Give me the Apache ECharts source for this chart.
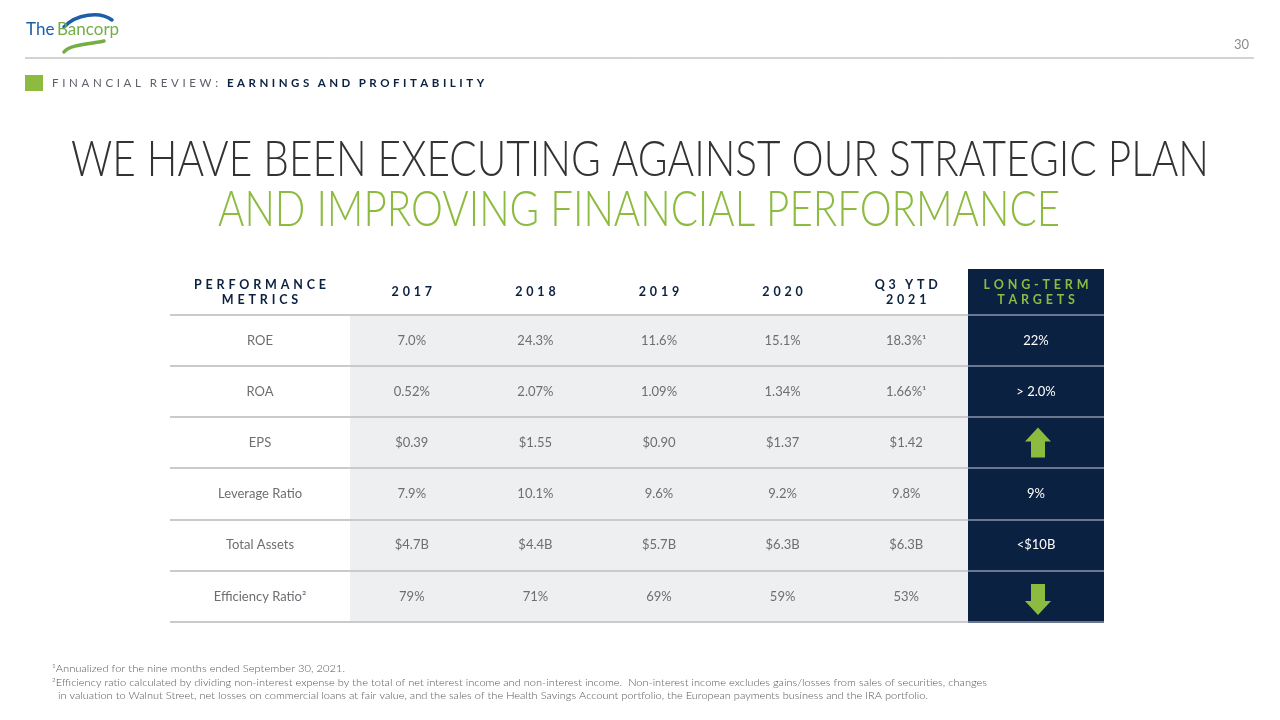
<!DOCTYPE html>
<html>
<head>
<meta charset="utf-8">
<title>Earnings and Profitability</title>
<script src="https://cdn.jsdelivr.net/npm/echarts@6.0.0/dist/echarts.min.js"></script>
<style>html,body{margin:0;padding:0;background:#fff;}</style>
</head>
<body>
<div id="main" style="width:1280px;height:720px;"></div>
<script>
// table content
var metrics = ['ROE', 'ROA', 'EPS', 'Leverage Ratio', 'Total Assets', 'Efficiency Ratio²'];
var periods = ['2017', '2018', '2019', '2020', 'Q3 YTD\n2021'];
var roe = ['7.0%', '24.3%', '11.6%', '15.1%', '18.3%¹'];
var roa = ['0.52%', '2.07%', '1.09%', '1.34%', '1.66%¹'];
var eps = ['$0.39', '$1.55', '$0.90', '$1.37', '$1.42'];
var leverage = ['7.9%', '10.1%', '9.6%', '9.2%', '9.8%'];
var assets = ['$4.7B', '$4.4B', '$5.7B', '$6.3B', '$6.3B'];
var efficiency = ['79%', '71%', '69%', '59%', '53%'];
var targets = ['22%', '> 2.0%', 'up', '9%', '<$10B', 'down'];
var footnotes = [
  '¹Annualized for the nine months ended September 30, 2021.',
  '²Efficiency ratio calculated by dividing non-interest expense by the total of net interest income and non-interest income.  Non-interest income excludes gains/losses from sales of securities, changes',
  '  in valuation to Walnut Street, net losses on commercial loans at fair value, and the sales of the Health Savings Account portfolio, the European payments business and the IRA portfolio.'
];

var NAVY = '#0b2141', GREEN = '#8cbb3f', TXT = '#6d6e71', LINE = '#c9cacc', NAVY_LINE = '#6b7690', CELL_BG = '#eeeff1';
var FONT = 'Lato';

// letter-spaced caps (zrender has no letterSpacing)
function spaced(s) {
  return s.split('\n').map(function (l) {
    return l.split(' ').map(function (w) { return w.split('').join(' \u200A'); }).join('   ');
  }).join('\n');
}
// horizontal scale needed to fit a string into a width
var measureCtx = document.createElement('canvas').getContext('2d');
function fit(text, weight, size, width) {
  measureCtx.font = weight + ' ' + size + 'px ' + FONT;
  return width / measureCtx.measureText(text).width;
}

var rows = [roe, roa, eps, leverage, assets, efficiency];
var metricData = metrics.map(function (m, i) { return [0, i]; });
var valueData = [], valueText = [];
rows.forEach(function (r, i) {
  r.forEach(function (v, j) { valueData.push([j, i]); valueText.push(v); });
});
var targetData = targets.map(function (t, i) { return [0, i]; });

function arrow(dir, cx, cy) {
  var pts = dir === 'up'
    ? [[0, -15.5], [13, -1.5], [7, -1.5], [7, 14.5], [-7, 14.5], [-7, -1.5], [-13, -1.5]]
    : [[0, 18.5], [13, 4.5], [7, 4.5], [7, -12.5], [-7, -12.5], [-7, 4.5], [-13, 4.5]];
  return {
    type: 'polygon',
    shape: { points: pts.map(function (p) { return [cx + 2 + p[0], cy + p[1]]; }) },
    style: { fill: GREEN }
  };
}

function cells(texts, color, lineColor) {
  return function (params, api) {
    var col = api.value(0), row = api.value(1);
    var p = api.coord([col, row]);
    var h = api.size([0, 1])[1];
    var cs = params.coordSys;
    var t = texts[params.dataIndex];
    var children = [];
    if (t === 'up' || t === 'down') {
      children.push(arrow(t, p[0], p[1]));
    } else {
      children.push({
        type: 'text',
        style: {
          text: t, x: p[0], y: p[1], align: 'center', verticalAlign: 'middle',
          fill: color, font: '13px ' + FONT
        }
      });
    }
    if (col === 0) {
      var yb = Math.round(p[1] + h / 2);
      children.push({
        type: 'line',
        shape: { x1: cs.x, y1: yb, x2: cs.x + cs.width, y2: yb },
        style: { stroke: lineColor, lineWidth: 2 }
      });
      if (row === 0) {
        var yt = Math.round(p[1] - h / 2);
        children.push({
          type: 'line',
          shape: { x1: cs.x, y1: yt, x2: cs.x + cs.width, y2: yt },
          style: { stroke: lineColor, lineWidth: 2 }
        });
      }
    }
    return { type: 'group', children: children };
  };
}

function headAxis(idx, data, color) {
  return {
    type: 'category', gridIndex: idx, position: 'top', data: data,
    axisLine: { show: false }, axisTick: { show: false }, splitLine: { show: false },
    axisLabel: {
      interval: 0, margin: 23, verticalAlign: 'middle', align: 'center',
      color: color, fontFamily: FONT, fontWeight: 'bold', fontSize: 12.5, lineHeight: 15,
      formatter: function (v) { return spaced(v); }
    }
  };
}
function rowAxis(idx) {
  return { type: 'category', gridIndex: idx, data: metrics, inverse: true, show: false };
}

var title1 = 'WE HAVE BEEN EXECUTING AGAINST OUR STRATEGIC PLAN';
var title2 = 'AND IMPROVING FINANCIAL PERFORMANCE';
var footWidths = [293, 935, 876];

var chart = echarts.init(document.getElementById('main'), null, { renderer: 'canvas' });
var option = {
  backgroundColor: '#ffffff',
  animation: false,
  textStyle: { fontFamily: FONT },
  grid: [
    { left: 170, width: 180, top: 315, height: 307, outerBoundsMode: 'none' },
    { left: 350, width: 618, top: 315, height: 307, show: true, backgroundColor: CELL_BG, borderWidth: 0, outerBoundsMode: 'none' },
    { left: 968, width: 136, top: 315, height: 307, show: true, backgroundColor: NAVY, borderWidth: 0, outerBoundsMode: 'none' }
  ],
  xAxis: [
    headAxis(0, ['PERFORMANCE\nMETRICS'], NAVY),
    headAxis(1, periods, NAVY),
    headAxis(2, ['LONG-TERM\nTARGETS'], GREEN)
  ],
  yAxis: [rowAxis(0), rowAxis(1), rowAxis(2)],
  series: [
    { type: 'custom', xAxisIndex: 0, yAxisIndex: 0, data: metricData, renderItem: cells(metrics, TXT, LINE), z: 3 },
    { type: 'custom', xAxisIndex: 1, yAxisIndex: 1, data: valueData, renderItem: cells(valueText, TXT, LINE), z: 3 },
    { type: 'custom', xAxisIndex: 2, yAxisIndex: 2, data: targetData, renderItem: cells(targets, '#ffffff', NAVY_LINE), z: 3 }
  ],
  graphic: [
    // target header block
    { type: 'rect', shape: { x: 968, y: 269, width: 136, height: 46 }, style: { fill: NAVY }, z: -1 },
    // logo
    { type: 'bezierCurve', shape: { x1: 64, y1: 27, cpx1: 76, cpy1: 14, cpx2: 100, cpy2: 11, x2: 112, y2: 20 }, style: { stroke: '#1d5ea8', lineWidth: 3.5, fill: null, lineCap: 'round' } },
    { type: 'bezierCurve', shape: { x1: 64, y1: 52, cpx1: 70, cpy1: 44, cpx2: 92, cpy2: 44, x2: 104, y2: 41 }, style: { stroke: '#74ae45', lineWidth: 3.5, fill: null, lineCap: 'round' } },
    { type: 'text', style: { text: 'The', x: 26, y: 30, verticalAlign: 'middle', fill: '#1d5ea8', font: '17px ' + FONT } },
    { type: 'text', style: { text: 'Bancorp', x: 57, y: 30, verticalAlign: 'middle', fill: '#74ae45', font: '17px ' + FONT } },
    // header rule and page number
    { type: 'line', shape: { x1: 25, y1: 58, x2: 1254, y2: 58 }, style: { stroke: '#a6a6a6', lineWidth: 1 } },
    { type: 'text', style: { text: '30', x: 1249, y: 45, align: 'right', verticalAlign: 'middle', fill: '#8a8a8a', font: '13px ' + FONT } },
    // section label
    { type: 'rect', shape: { x: 25, y: 75, width: 18, height: 16 }, style: { fill: GREEN } },
    {
      type: 'text',
      style: {
        x: 52, y: 83, verticalAlign: 'middle',
        text: '{a|' + spaced('FINANCIAL REVIEW:') + '   }{b|' + spaced('EARNINGS AND PROFITABILITY') + '}',
        rich: {
          a: { fill: '#5b5f66', font: '11.5px ' + FONT },
          b: { fill: NAVY, font: 'bold 11.5px ' + FONT }
        }
      }
    },
    // headline
    {
      type: 'text', x: 640, y: 160, scaleX: fit(title1, 300, 49, 1138),
      style: { text: title1, align: 'center', verticalAlign: 'middle', fill: '#333333', font: '300 49px ' + FONT }
    },
    {
      type: 'text', x: 639, y: 210, scaleX: fit(title2, 300, 49, 842),
      style: { text: title2, align: 'center', verticalAlign: 'middle', fill: GREEN, font: '300 49px ' + FONT }
    }
  ].concat(footnotes.map(function (f, i) {
    return {
      type: 'text', x: 52, y: 669 + i * 13.5, scaleX: fit(f, 300, 10, footWidths[i]),
      style: { text: f, verticalAlign: 'middle', fill: '#555555', font: '300 10px ' + FONT }
    };
  }))
};
chart.setOption(option);
</script>
</body>
</html>
